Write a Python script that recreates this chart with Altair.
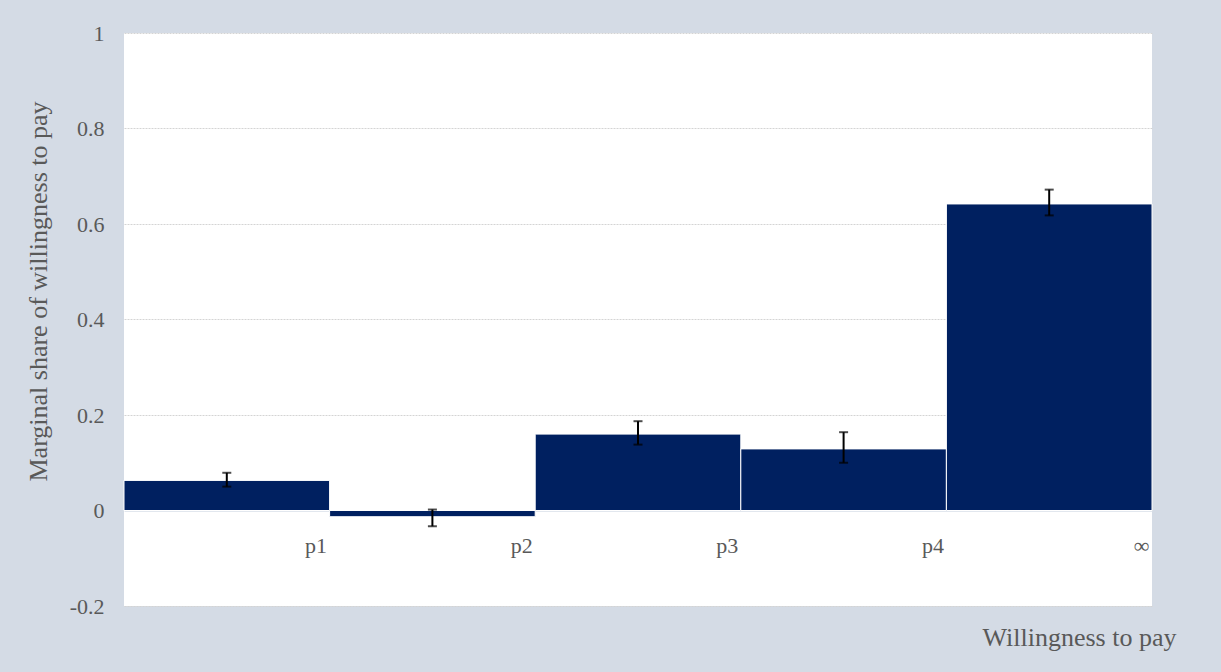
import json

import altair as alt
import pandas as pd

# Marginal share of willingness to pay, by price bracket, with 95% intervals
categories = ["p1", "p2", "p3", "p4", "∞"]
share = [0.063, -0.013, 0.160, 0.129, 0.642]
ci_low = [0.050, -0.033, 0.138, 0.100, 0.618]
ci_high = [0.079, 0.002, 0.187, 0.164, 0.672]
y_ticks = [-0.2, 0, 0.2, 0.4, 0.6, 0.8, 1]

n = len(categories)
df = pd.DataFrame({
    "category": categories,
    "lo": list(range(n)),
    "hi": list(range(1, n + 1)),
    "share": share,
    "ci_low": ci_low,
    "ci_high": ci_high,
})
df["mid"] = (df["lo"] + df["hi"]) / 2

FONT = "Liberation Serif"
GREY = "#595959"
NAVY = "#002060"
PLOT_W, PLOT_H = 1028, 573
Y_MIN, Y_MAX = -0.2, 1.0
zero_from_bottom = PLOT_H * (0 - Y_MIN) / (Y_MAX - Y_MIN)

x_label_expr = "['', " + ", ".join(json.dumps(c, ensure_ascii=False) for c in categories) + "][datum.value]"
y_label_expr = "datum.value == 0 ? '0' : (datum.value < 0 ? '-' : '') + format(abs(datum.value), '~g')"

x_scale = alt.Scale(domain=[0, n], nice=False, zero=False)
y_scale = alt.Scale(domain=[Y_MIN, Y_MAX], nice=False)

x_axis = alt.Axis(
    values=list(range(1, n + 1)),
    labelExpr=x_label_expr,
    ticks=False,
    grid=False,
    domainColor="#d9dfe8",
    domainWidth=1.5,
    offset=-zero_from_bottom,
    labelAlign="right",
    labelBaseline="alphabetic",
    labelPadding=42,
    labelOffset=-3,
    labelFont=FONT,
    labelFontSize=22,
    labelColor=GREY,
    title="Willingness to pay",
    titleFont=FONT,
    titleFontSize=26,
    titleFontWeight="normal",
    titleColor=GREY,
    titleAlign="right",
    titleBaseline="alphabetic",
    titleX=1052,
    titleY=135,
)

y_axis = alt.Axis(
    values=y_ticks,
    labelExpr=y_label_expr,
    domain=False,
    ticks=False,
    grid=True,
    gridColor="#d4d4d4",
    gridDash=[2, 1],
    gridWidth=1,
    labelPadding=20,
    labelFont=FONT,
    labelFontSize=22,
    labelColor=GREY,
    title="Marginal share of willingness to pay",
    titleFont=FONT,
    titleFontSize=26,
    titleFontWeight="normal",
    titleColor=GREY,
    titleAngle=270,
    titleAlign="center",
    titleBaseline="middle",
    titleX=-86,
    titleY=258,
)

base = alt.Chart(df)

bars = base.mark_bar(color=NAVY, stroke="white", strokeWidth=1).encode(
    x=alt.X("lo:Q", scale=x_scale, axis=x_axis),
    x2="hi",
    y=alt.Y("share:Q", scale=y_scale, axis=y_axis),
    y2=alt.datum(0),
)

whisker = base.mark_rule(color="black", strokeWidth=2).encode(
    x=alt.X("mid:Q", scale=x_scale, axis=x_axis),
    y=alt.Y("ci_low:Q", scale=y_scale, axis=y_axis),
    y2="ci_high",
)

cap_low = base.mark_tick(orient="horizontal", color="black", size=9, thickness=2).encode(
    x=alt.X("mid:Q", scale=x_scale, axis=x_axis),
    y=alt.Y("ci_low:Q", scale=y_scale, axis=y_axis),
)

cap_high = base.mark_tick(orient="horizontal", color="black", size=9, thickness=2).encode(
    x=alt.X("mid:Q", scale=x_scale, axis=x_axis),
    y=alt.Y("ci_high:Q", scale=y_scale, axis=y_axis),
)

chart = (
    alt.layer(bars, whisker, cap_low, cap_high)
    .properties(
        width=PLOT_W,
        height=PLOT_H,
        autosize=alt.AutoSizeParams(type="none"),
        padding={"left": 124, "top": 33, "right": 69, "bottom": 66},
        background="#d4dbe5",
    )
    .configure_view(fill="white", stroke=None)
)

chart.save("out.html", embed_options={"renderer": "svg", "actions": False})
